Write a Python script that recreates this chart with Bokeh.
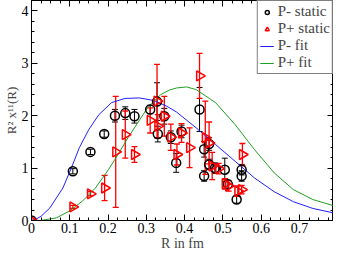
import numpy as np
from bokeh.plotting import figure
from bokeh.models import (ColumnDataSource, Whisker, TeeHead, LinearAxis, Range1d,
                          Legend, LegendItem, FixedTicker)
from bokeh.embed import file_html
from bokeh.resources import INLINE

# P- static (black circles): R, value, error
pm_r = [0.0, 0.108, 0.154, 0.190, 0.218, 0.245, 0.269, 0.310, 0.328, 0.330, 0.347,
        0.364, 0.378, 0.392, 0.439, 0.451, 0.451, 0.464, 0.464, 0.479, 0.505,
        0.513, 0.536, 0.549, 0.549]
pm_v = [0.0, 0.94, 1.31, 1.65, 2.00, 2.05, 1.99, 2.12, 2.27, 1.65, 1.99,
        1.59, 1.10, 1.70, 2.12, 1.36, 0.85, 1.46, 1.07, 1.00, 0.97,
        0.69, 0.40, 0.97, 0.85]
pm_e = [0.0, 0.05, 0.05, 0.06, 0.12, 0.12, 0.13, 0.08, 0.36, 0.15, 0.15,
        0.12, 0.18, 0.12, 0.42, 0.15, 0.10, 0.12, 0.10, 0.10, 0.22,
        0.08, 0.07, 0.10, 0.10]

# P+ static (red triangles): R, value, error
pp_r = [0.0, 0.108, 0.154, 0.191, 0.220, 0.245, 0.269, 0.310, 0.328, 0.330, 0.347,
        0.364, 0.380, 0.392, 0.413, 0.439, 0.454, 0.464, 0.472, 0.489, 0.506,
        0.515, 0.539, 0.549, 0.551]
pp_v = [0.0, 0.26, 0.51, 0.62, 1.31, 1.64, 1.26, 1.91, 2.28, 1.80, 1.99,
        1.59, 1.26, 1.67, 1.39, 2.76, 1.58, 1.48, 1.04, 0.99, 0.70,
        0.66, 0.56, 0.59, 1.26]
pp_e = [0.0, 0.03, 0.04, 0.24, 1.06, 0.45, 0.15, 0.24, 0.70, 0.22, 0.38,
        0.25, 0.20, 0.18, 0.38, 0.43, 0.70, 0.40, 0.26, 0.10, 0.10,
        0.10, 0.10, 0.08, 0.21]

# Fit curves
pm_fit_r = [0.0, 0.01, 0.025, 0.048, 0.082, 0.104, 0.125, 0.150, 0.176, 0.209, 0.244,
            0.282, 0.320, 0.354, 0.379, 0.430, 0.481, 0.532, 0.583, 0.634, 0.684,
            0.735, 0.786, 0.80]
pm_fit_v = [0.0, 0.02, 0.08, 0.24, 0.62, 1.00, 1.39, 1.74, 2.02, 2.25, 2.33,
            2.34, 2.29, 2.18, 2.07, 1.77, 1.45, 1.13, 0.81, 0.55, 0.36,
            0.23, 0.15, 0.13]
pp_fit_r = [0.0, 0.023, 0.065, 0.099, 0.133, 0.167, 0.201, 0.226, 0.252, 0.277, 0.303,
            0.337, 0.360, 0.379, 0.405, 0.430, 0.481, 0.532, 0.583, 0.634, 0.684,
            0.735, 0.786, 0.80]
pp_fit_v = [0.0, 0.0, 0.05, 0.18, 0.37, 0.62, 0.97, 1.26, 1.58, 1.86, 2.15,
            2.40, 2.49, 2.53, 2.55, 2.50, 2.25, 1.83, 1.35, 0.91, 0.59,
            0.40, 0.29, 0.26]

x_ticks = [0.0, 0.1, 0.2, 0.3, 0.4, 0.5, 0.6, 0.7, 0.8]
x_labels = ["0", "0.1", "0.2", "0.3", "0.4", "0.5", "0.6", "0.7", "0.8"]
y_ticks = [0, 1, 2, 3, 4]
y_labels = ["0", "1", "2", "3", "4"]

x_minor = [i * 0.025 for i in range(0, 33)]
y_minor = [i * 0.2 for i in range(0, 22)]

FONT = "Liberation Serif"

p = figure(width=333, height=256, x_range=Range1d(0, 0.789), y_range=Range1d(0, 4.2),
           output_backend="svg", toolbar_location=None,
           min_border_left=23, min_border_right=0, min_border_top=0, min_border_bottom=36)
p.xgrid.visible = False
p.ygrid.visible = False
p.outline_line_color = "black"
p.outline_line_width = 1
p.background_fill_color = "white"
p.border_fill_color = "white"

def style_axis(ax, ticks, labels, minor, show_labels=True):
    ax.ticker = FixedTicker(ticks=ticks, minor_ticks=minor)
    ax.major_tick_in = 6
    ax.major_tick_out = 0
    ax.minor_tick_in = 3
    ax.minor_tick_out = 0
    ax.major_tick_line_color = "black"
    ax.minor_tick_line_color = "black"
    ax.axis_line_color = "black"
    ax.major_label_text_font = FONT
    ax.major_label_text_color = "black"
    ax.major_label_text_font_size = "14px"
    if show_labels:
        ax.major_label_overrides = {t: l for t, l in zip(ticks, labels)}
    else:
        ax.major_label_text_color = None
        ax.major_label_text_alpha = 0
        ax.major_label_standoff = 0

xax = p.xaxis[0]
style_axis(xax, x_ticks, x_labels, x_minor)
xax.major_label_standoff = 2
xax.axis_label = "R in fm"
xax.axis_label_text_font = FONT
xax.axis_label_text_font_style = "normal"
xax.axis_label_text_font_size = "14px"
xax.axis_label_standoff = 0

yax = p.yaxis[0]
style_axis(yax, y_ticks, y_labels, y_minor)
yax.major_label_standoff = 3
yax.axis_label = "R² x¹¹(R)"
yax.axis_label_text_font = FONT
yax.axis_label_text_font_style = "normal"
yax.axis_label_text_font_size = "13px"
yax.axis_label_standoff = 0

top = LinearAxis()
style_axis(top, x_ticks, x_labels, x_minor, show_labels=False)
p.add_layout(top, "above")
right = LinearAxis()
style_axis(right, y_ticks, y_labels, y_minor, show_labels=False)
p.add_layout(right, "right")

# fits
l1 = p.line(pm_fit_r, pm_fit_v, line_color="#2020ff", line_width=1)
l2 = p.line(pp_fit_r, pp_fit_v, line_color="#20a020", line_width=1)

# error bars
pm_src = ColumnDataSource(dict(r=pm_r, v=pm_v, lo=[v - e for v, e in zip(pm_v, pm_e)],
                               hi=[v + e for v, e in zip(pm_v, pm_e)]))
pp_src = ColumnDataSource(dict(r=pp_r, v=pp_v, lo=[v - e for v, e in zip(pp_v, pp_e)],
                               hi=[v + e for v, e in zip(pp_v, pp_e)]))

w1 = Whisker(source=pm_src, base="r", lower="lo", upper="hi", line_color="black", line_width=1,
             upper_head=TeeHead(size=6, line_color="black", line_width=1),
             lower_head=TeeHead(size=6, line_color="black", line_width=1))
w2 = Whisker(source=pp_src, base="r", lower="lo", upper="hi", line_color="red", line_width=1.3,
             upper_head=TeeHead(size=6, line_color="red", line_width=1.3),
             lower_head=TeeHead(size=6, line_color="red", line_width=1.3))
p.add_layout(w1)
p.add_layout(w2)

c1 = p.scatter("r", "v", source=pm_src, marker="circle", size=9, fill_color=None,
               line_color="black", line_width=1.5)
c2 = p.scatter("r", "v", source=pp_src, marker="triangle", size=10, angle=-np.pi / 2,
               fill_color=None, line_color="red", line_width=1.5)

legend = Legend(items=[LegendItem(label="P- static", renderers=[c1]),
                       LegendItem(label="P+ static", renderers=[c2]),
                       LegendItem(label="P- fit", renderers=[l1]),
                       LegendItem(label="P+ fit", renderers=[l2])],
                location="top_right")
legend.label_text_font = FONT
legend.label_text_font_size = "15px"
legend.label_text_line_height = 0.8
legend.border_line_color = "black"
legend.border_line_width = 1
legend.background_fill_alpha = 1.0
legend.padding = 2
legend.spacing = 0
legend.margin = 0
legend.glyph_width = 14
legend.glyph_height = 10
legend.label_height = 10
legend.label_standoff = 4
p.add_layout(legend)

open("out.html", "w").write(file_html(p, INLINE))
